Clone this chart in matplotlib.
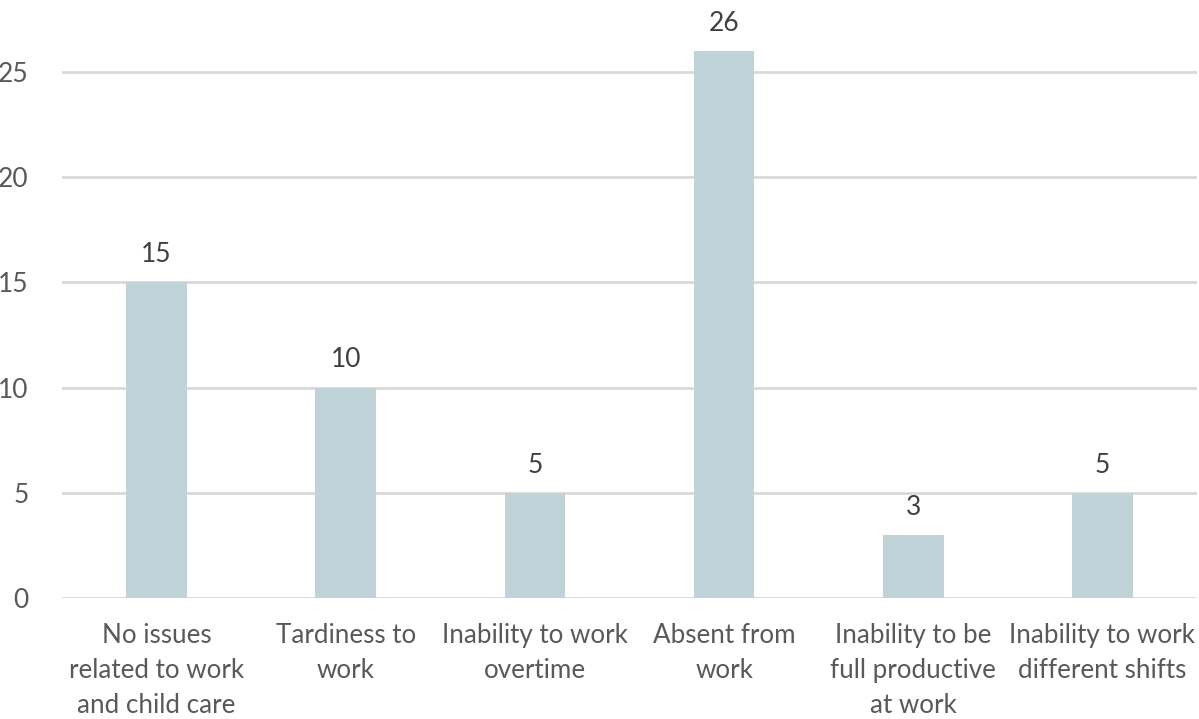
import matplotlib
matplotlib.use("Agg")
import matplotlib.pyplot as plt

categories = [
    "No issues\nrelated to work\nand child care",
    "Tardiness to\nwork",
    "Inability to work\novertime",
    "Absent from\nwork",
    "Inability to be\nfull productive\nat work",
    "Inability to work\ndifferent shifts",
]
values = [15, 10, 5, 26, 3, 5]
yticks = [0, 5, 10, 15, 20, 25]

bar_color = "#BFD3D8"
grid_color = "#D9D9D9"
text_color = "#595959"

plt.rcParams["font.family"] = ["Lato", "DejaVu Sans"]

fig = plt.figure(figsize=(11.99, 7.19), dpi=100)
ax = fig.add_axes([62 / 1199, 1 - 598 / 719, 1135 / 1199, 589 / 719])

x = range(len(categories))
bars = ax.bar(x, values, width=0.32, color=bar_color, zorder=2)

ax.set_xlim(-0.5, len(categories) - 0.5)
ax.set_ylim(0, 28)
ax.set_yticks(yticks)
ax.set_xticks(list(x))
ax.set_xticklabels(categories, fontsize=18.7, color=text_color, linespacing=1.5)
ax.tick_params(axis="y", labelsize=19, labelcolor=text_color, length=0, pad=24)
ax.tick_params(axis="x", length=0, pad=18)

ax.grid(axis="y", color=grid_color, linewidth=2, zorder=0)
for s in ax.spines.values():
    s.set_visible(False)

for rect, v in zip(bars, values):
    ax.annotate(str(v), (rect.get_x() + rect.get_width() / 2, v),
                xytext=(0, 11), textcoords="offset points",
                ha="center", va="bottom", fontsize=19, color="#404040")

fig.savefig("out.png", dpi=100)
